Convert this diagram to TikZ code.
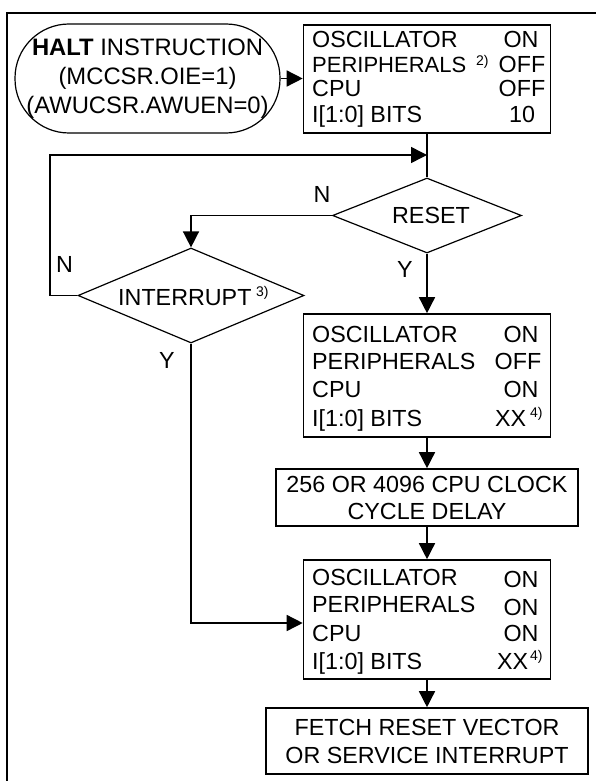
\documentclass[tikz,border=0pt]{standalone}
\usepackage{fontspec}
\setmainfont{Liberation Sans}
\usetikzlibrary{arrows.meta,shapes.geometric}
\begin{document}
\begin{tikzpicture}[x=1pt,y=-1pt,
  every node/.style={font=\fontsize{23.3}{28}\selectfont, inner sep=0pt},
  box/.style={draw, line width=1.6pt, rectangle, minimum width=247pt},
  dia/.style={draw, diamond, line width=1.2pt},
  arr/.style={line width=1.5pt, -{Triangle[length=16pt,width=16pt]}},
  ln/.style={line width=1.5pt},
  lbl/.style={anchor=base west},
  val/.style={anchor=base},
  sup/.style={anchor=base west, font=\fontsize{14}{14}\selectfont},
]
\useasboundingbox (0,0) rectangle (596,781);
% outer frame
\draw[line width=2pt] (6.5,781) -- (6.5,13) -- (596,13);

% HALT terminal
\node[draw, line width=1.2pt, rounded corners=54pt, minimum width=265pt, minimum height=109pt,
      align=center, font=\fontsize{23.8}{29}\selectfont] (halt) at (147.5,78.5)
  {\textbf{HALT} INSTRUCTION\\(MCCSR.OIE=1)\\(AWUCSR.AWUEN=0)};

% state box 1
\node[box, minimum height=108pt] (s1) at (427,79) {};
\node[lbl] (s1a) at (312,48) {OSCILLATOR};
\node[lbl] (s1b) at (312,73) {\fontsize{22}{28}\selectfont PERIPHERALS};
\node[lbl] (s1c) at (312,97) {CPU};
\node[lbl] (s1d) at (312,122) {I[1:0] BITS};
\node[sup] (s1s) at (476,65.5) {2)};
\node[val] (s1av) at (521,48) {ON};
\node[val] (s1bv) at (522,73) {OFF};
\node[val] (s1cv) at (522,97) {OFF};
\node[val] (s1dv) at (522,122) {10};

% RESET decision
\node[dia, minimum width=189pt, minimum height=75pt] (reset) at (427,215.5) {};
\node (resett) at (431,215) {RESET};

% INTERRUPT decision
\node[dia, minimum width=226pt, minimum height=95pt] (intr) at (191,295.5) {};
\node[lbl] (intrt) at (118,305) {INTERRUPT};
\node[sup] (intrs) at (256,296) {3)};

% branch labels
\node (n1) at (322,194) {N};
\node (y1) at (405,269) {Y};
\node (n2) at (64.5,264.5) {N};
\node (y2) at (167,360) {Y};

% state box 2
\node[box, minimum height=123pt] (s2) at (427,375.5) {};
\node[lbl] (s2a) at (312,342) {OSCILLATOR};
\node[lbl] (s2b) at (312,369) {PERIPHERALS};
\node[lbl] (s2c) at (312,397) {CPU};
\node[lbl] (s2d) at (312,426) {I[1:0] BITS};
\node[val] (s2av) at (521,342) {ON};
\node[val] (s2bv) at (518,369) {OFF};
\node[val] (s2cv) at (521,397) {ON};
\node[lbl] (s2dv) at (495,426) {XX};
\node[sup] (s2s) at (530,417) {4)};

% delay box
\node[box, minimum width=302pt, minimum height=57pt, align=center,
      font=\fontsize{23.3}{27}\selectfont] (delay) at (427,497.5)
  {256 OR 4096 CPU CLOCK\\CYCLE DELAY};

% state box 3
\node[box, minimum height=119pt] (s3) at (427,619.5) {};
\node[lbl] (s3a) at (312,585) {OSCILLATOR};
\node[lbl] (s3b) at (312,612) {PERIPHERALS};
\node[lbl] (s3c) at (312,641) {CPU};
\node[lbl] (s3d) at (312,669) {I[1:0] BITS};
\node[val] (s3av) at (521,587) {ON};
\node[val] (s3bv) at (521,615) {ON};
\node[val] (s3cv) at (521,641) {ON};
\node[lbl] (s3dv) at (497,669) {XX};
\node[sup] (s3s) at (530,660) {4)};

% fetch box
\node[box, minimum width=322pt, minimum height=66pt, align=center,
      font=\fontsize{23.3}{28}\selectfont] (fetch) at (427,741)
  {FETCH RESET VECTOR\\OR SERVICE INTERRUPT};

% connectors
\coordinate (join) at (427,155);
\coordinate (loopc) at (50,155);
\draw[arr] (halt.east) -- (halt.east -| s1.west);
\draw[ln] (s1.south) -- (reset.north);
\draw[arr] (reset.west) -| (intr.north);
\draw[arr] (intr.west) -| (loopc) -- (join);
\draw[arr] (reset.south) -- (s2.north);
\draw[arr] (s2.south) -- (delay.north);
\draw[arr] (delay.south) -- (s3.north);
\draw[arr] (s3.south) -- (fetch.north);
\draw[arr] (intr.south) |- ([yshift=-3.5pt]s3.west);
\end{tikzpicture}
\end{document}
